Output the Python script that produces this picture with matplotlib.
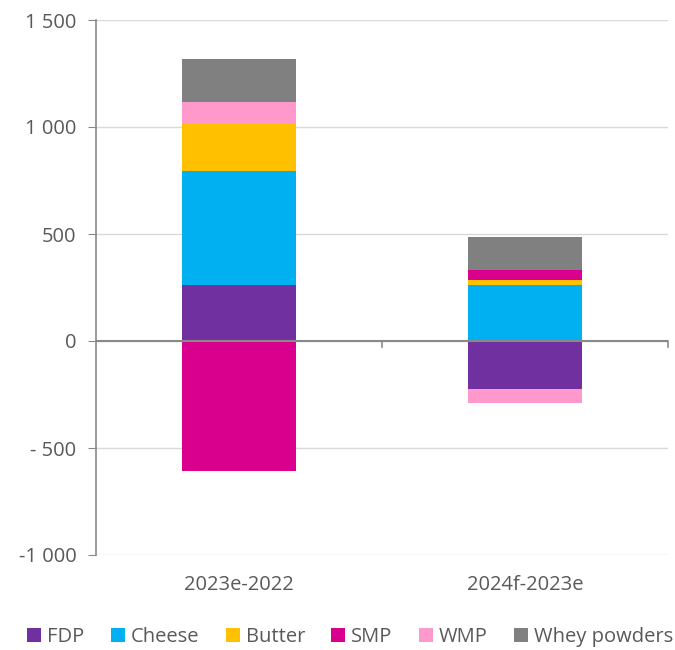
import matplotlib
matplotlib.use("Agg")
import matplotlib.pyplot as plt
import numpy as np
from matplotlib.patches import Patch

categories = ["2023e-2022", "2024f-2023e"]
series = ["FDP", "Cheese", "Butter", "SMP", "WMP", "Whey powders"]
fdp = [261, -223]
cheese = [535, 264]
butter = [224, 22]
smp = [-609, 44]
wmp = [98, -69]
whey = [200, 158]
colors = ["#7030A0", "#00B0F0", "#FFC000", "#D9008D", "#FF99CC", "#808080"]
yticks = [-1000, -500, 0, 500, 1000, 1500]
ytick_labels = ["-1 000", "- 500", "0", "500", "1 000", "1 500"]

plt.rcParams['font.family'] = ['Open Sans', 'DejaVu Sans']
txt = "#595959"
fs = 14.5

fig = plt.figure(figsize=(6.75, 6.5), dpi=100)
ax = fig.add_axes([96/675, 1-555/650, 572/675, 535/650])

x = np.arange(len(categories))
data = [fdp, cheese, butter, smp, wmp, whey]
pos_base = np.zeros(len(categories))
neg_base = np.zeros(len(categories))
for vals, c, name in zip(data, colors, series):
    vals = np.array(vals, dtype=float)
    bottoms = np.where(vals >= 0, pos_base, neg_base)
    ax.bar(x, vals, bottom=bottoms, width=0.4, color=c, label=name, zorder=3)
    pos_base = pos_base + np.where(vals >= 0, vals, 0)
    neg_base = neg_base + np.where(vals < 0, vals, 0)

ax.set_xlim(-0.5, 1.5)
ax.set_ylim(-1000, 1500)
ax.set_yticks(yticks)
ax.set_yticklabels(ytick_labels, color=txt, fontsize=fs)
ax.yaxis.grid(True, color="#D9D9D9", linewidth=1, zorder=0)
ax.set_axisbelow(True)
ax.axhline(0, color="#898989", linewidth=1.5, zorder=4)

for s in ["top", "right", "bottom"]:
    ax.spines[s].set_visible(False)
ax.spines["left"].set_color("#898989")
ax.spines["left"].set_linewidth(1.2)
ax.tick_params(axis="y", length=6, color="#898989", pad=8)

ax.set_xticks([])
for xi, lab in zip(x, categories):
    ax.text(xi, -1140, lab, ha="center", va="center", color=txt, fontsize=fs)
for xb in [0.5, 1.5]:
    ax.plot([xb, xb], [0, -30], color="#898989", linewidth=1.2, clip_on=False, zorder=4)

handles = [Patch(facecolor=c, label=n) for c, n in zip(colors, series)]
fig.legend(handles=handles, loc="center", bbox_to_anchor=(0.519, 1-637/650), ncol=6,
           frameon=False, fontsize=fs, handlelength=0.7, handleheight=0.7,
           handletextpad=0.3, columnspacing=1.3, labelcolor=txt)

fig.savefig("out.png", dpi=100)
